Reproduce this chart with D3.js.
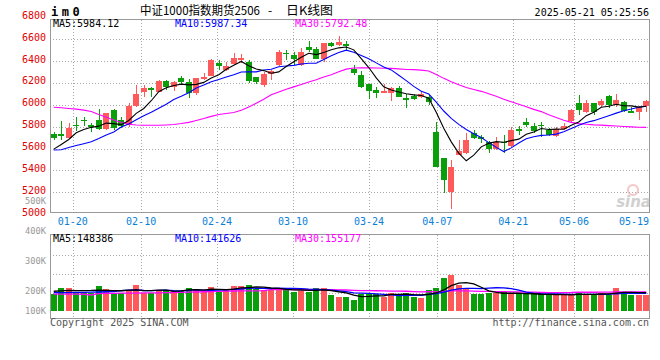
<!DOCTYPE html>
<html><head><meta charset="utf-8">
<script src="https://cdn.jsdelivr.net/npm/d3@7"></script>
<style>
html,body{margin:0;padding:0;background:#fff;}
svg{display:block;}
</style></head><body>
<svg id="c" width="660" height="360"></svg>
<script>
const dates = ["01-15","01-16","01-17","01-20","01-21","01-22","01-23","01-24","01-27","02-05",
"02-06","02-07","02-10","02-11","02-12","02-13","02-14","02-17","02-18","02-19",
"02-20","02-21","02-24","02-25","02-26","02-27","02-28","03-03","03-04","03-05",
"03-06","03-07","03-10","03-11","03-12","03-13","03-14","03-17","03-18","03-19",
"03-20","03-21","03-24","03-25","03-26","03-27","03-28","03-31","04-01","04-02",
"04-03","04-07","04-08","04-09","04-10","04-11","04-14","04-15","04-16","04-17",
"04-18","04-21","04-22","04-23","04-24","04-25","04-28","04-29","04-30","05-06",
"05-07","05-08","05-09","05-12","05-13","05-14","05-15","05-16","05-19","05-20"];
const open = [5736,5731,5698,5820,5866,5814,5862,5775,5953,5866,
5814,5990,6120,6154,6121,6222,6167,6243,6209,6106,
6234,6264,6386,6319,6374,6414,6395,6258,6182,6282,
6364,6478,6457,6365,6533,6509,6417,6569,6551,6554,
6325,6276,6191,6136,6112,6112,6152,6060,6081,6069,
6075,5755,5511,5206,5541,5557,5740,5706,5663,5594,
5661,5627,5776,5840,5807,5820,5770,5716,5779,5856,
6014,5938,6014,6000,6081,5999,6029,5947,5938,5990];
const high = [5755,5853,5832,5892,5889,5832,5961,5930,5962,5892,
6020,6182,6182,6163,6228,6228,6215,6264,6234,6250,
6295,6420,6411,6395,6472,6466,6411,6258,6304,6319,
6502,6502,6487,6518,6585,6533,6570,6578,6630,6588,
6365,6313,6191,6160,6191,6166,6172,6100,6100,6121,
6090,5846,5511,5496,5679,5740,5770,5725,5670,5709,
5725,5800,5807,5877,5832,5840,5786,5800,5832,5960,
6090,6045,6014,6051,6090,6100,6039,5984,5990,6045];
const low = [5679,5679,5695,5761,5804,5755,5773,5773,5770,5786,
5795,5978,6075,6075,6121,6136,6130,6182,6066,6090,
6228,6264,6319,6313,6364,6380,6197,6191,6166,6228,
6359,6411,6365,6356,6480,6417,6395,6533,6542,6496,
6273,6151,6051,6060,6112,6036,6069,5975,6045,6060,
5999,5435,5197,5045,5541,5551,5688,5649,5557,5587,
5563,5618,5725,5795,5740,5709,5716,5709,5770,5846,
5907,5926,5907,5978,5969,5984,5938,5923,5862,5938];
const close = [5699,5720,5786,5810,5855,5801,5775,5926,5786,5808,
5990,6100,6151,6139,6222,6167,6209,6212,6106,6243,
6258,6411,6359,6356,6432,6426,6221,6206,6282,6313,
6487,6466,6420,6487,6502,6423,6563,6542,6578,6538,
6295,6166,6130,6105,6130,6152,6075,6045,6057,6097,
6029,5435,5313,5435,5581,5679,5694,5691,5596,5658,
5649,5770,5761,5816,5764,5807,5725,5779,5807,5953,
5953,6014,5938,6036,5996,6045,5947,5929,5978,6036];
const volume = [157000,216000,216000,179000,179000,164000,231000,204000,169000,169000,
194000,241000,169000,169000,194000,194000,185000,185000,216000,204000,
179000,222000,179000,204000,231000,231000,241000,204000,194000,194000,
216000,194000,179000,188000,179000,216000,216000,148000,132000,132000,
102000,155000,155000,155000,132000,169000,155000,169000,132000,123000,
194000,216000,308000,333000,241000,216000,155000,155000,169000,164000,
179000,155000,155000,155000,155000,155000,148000,148000,148000,148000,
179000,148000,148000,164000,152000,216000,179000,152000,148000,152000];
// moving-average values before enough bars exist
const ma5Head = [5595,5638,5683,5745];
const ma10Head = [5587,5590,5610,5628,5645,5663,5692,5724,5752];
const ma30Head = [5978,5973,5967,5961,5952,5939,5912,5887,5862,5839,5822,5816,5813,5813,5813,5816,5820,5829,5840,5857,5875,5895,5912,5921,5930,5950,5980,6015,6052];
const volMa5Head = [183000,186000,190000,188000];
const volMa10Head = [170000,171000,171000,172000,173000,175000,176000,178000,180000];
const volMa30Head = [157000,157000,156000,156000,155000,148000,160000,163000,164000,165000,165000,166000,167000,168000,168000,170000,171000,172000,174000,176000,178000,180000,182000,184000,185000,186000,187000,187000,188000];
const priceTicks = [6800,6600,6400,6200,6000,5800,5600,5400,5200,5000];
const volTicks = [500000,400000,300000,200000,100000];
const dateTicks = ["01-20","02-10","02-24","03-10","03-24","04-07","04-21","05-06","05-19"];
const maLabels = [["MA5:5984.12","#000"],["MA10:5987.34","#0000ff"],["MA30:5792.48","#ff00ff"]];
const volMaLabels = [["MA5:148386","#000"],["MA10:141626","#0000ff"],["MA30:155177","#ff00ff"]];
const titleParts = ["中证1000指数期货2506","-","日K线图"];

const UP="#ff5a5a", DOWN="#0a9e0a";
const MONO="'DejaVu Sans Mono', monospace";
const svg=d3.select("#c");
const L=50,R=650,T=19.5,B=212.5,VT=234.5,VB=318.5,VBASE=311;
const n=dates.length;
const xb=d3.scaleBand().domain(d3.range(n)).range([L,R]).paddingInner(0.2).paddingOuter(0.1);
const xg=d3.scalePoint().domain(d3.range(n)).range([L,R]);
const y=d3.scaleLinear().domain([5000,6800]).range([214.2,17.4]);
const yv=d3.scaleLinear().domain([0,710000]).range([VBASE,234.3]);
const yvl=d3.scaleLinear().domain([200000,500000]).range([291,200.4]);
const cx=i=>Math.round(xb(i)+xb.bandwidth()/2)+0.5;

function movingAvg(arr,k,head){return arr.map((_,i)=>i<k-1?head[i]:d3.mean(arr.slice(i-k+1,i+1)));}

// gridlines
const grid=svg.append("g").attr("stroke","#aaa").attr("stroke-dasharray","1,2").attr("shape-rendering","crispEdges");
priceTicks.filter(p=>p<6800&&p>5000).forEach(p=>{
  const yy=Math.round(y(p))+0.5;
  grid.append("line").attr("x1",L).attr("x2",R).attr("y1",yy).attr("y2",yy);
});
d3.range(3).map(k=>255.5+19*k).forEach(yy=>{
  grid.append("line").attr("x1",L).attr("x2",R).attr("y1",yy).attr("y2",yy);
});
dateTicks.forEach(t=>{
  const i=dates.indexOf(t);
  const xx=Math.round(xg(i))+0.5;
  if(xx<R-10){
    grid.append("line").attr("x1",xx).attr("x2",xx).attr("y1",T).attr("y2",B);
    grid.append("line").attr("x1",xx).attr("x2",xx).attr("y1",VT).attr("y2",VB);
  }
});

// frames
svg.append("rect").attr("x",L+0.5).attr("y",T).attr("width",R-L-1).attr("height",B-T)
  .attr("fill","none").attr("stroke","#999").attr("shape-rendering","crispEdges");
svg.append("rect").attr("x",L+0.5).attr("y",VT).attr("width",R-L-1).attr("height",VB-VT)
  .attr("fill","none").attr("stroke","#999").attr("shape-rendering","crispEdges");

// watermark
const wm=svg.append("g").attr("opacity",0.55);
wm.append("circle").attr("cx",633).attr("cy",190).attr("r",5).attr("fill","none").attr("stroke","#e99").attr("stroke-width",2);
wm.append("text").attr("x",651).attr("y",207).attr("text-anchor","end").attr("font-family","'DejaVu Sans',sans-serif")
  .attr("font-weight","bold").attr("font-style","italic").attr("font-size",15).attr("fill","#aaa").text("sina");

// candles
const idx=d3.range(n);
const isUp=i=>close[i]>open[i];
const cg=svg.append("g").attr("shape-rendering","crispEdges");
cg.selectAll("line.w").data(idx).join("line")
  .attr("x1",cx).attr("x2",cx).attr("y1",i=>y(high[i])).attr("y2",i=>y(low[i]))
  .attr("stroke",i=>isUp(i)?UP:DOWN);
cg.selectAll("rect.b").data(idx).join("rect")
  .attr("x",i=>Math.round(xb(i))).attr("width",Math.round(xb.bandwidth()))
  .attr("y",i=>Math.min(y(open[i]),y(close[i])))
  .attr("height",i=>Math.max(1.5,Math.abs(y(open[i])-y(close[i]))))
  .attr("fill",i=>isUp(i)?UP:DOWN);

// price MAs
const line=d3.line().x((d,i)=>xb(i)+xb.bandwidth()/2).y(d=>y(d));
[[movingAvg(close,30,ma30Head),"#ff00ff"],[movingAvg(close,10,ma10Head),"#0000ff"],[movingAvg(close,5,ma5Head),"#000"]].forEach(([d,c])=>{
  svg.append("path").attr("d",line(d)).attr("fill","none").attr("stroke",c).attr("stroke-width",1.1);
});

// volume bars
svg.append("g").attr("shape-rendering","crispEdges").selectAll("rect").data(idx).join("rect")
  .attr("x",i=>Math.round(xb(i))).attr("width",Math.round(xb.bandwidth()))
  .attr("y",i=>yv(volume[i])).attr("height",i=>VBASE-yv(volume[i]))
  .attr("fill",i=>isUp(i)?UP:DOWN);
const vline=d3.line().x((d,i)=>xb(i)+xb.bandwidth()/2).y(d=>yv(d));
[[movingAvg(volume,30,volMa30Head),"#ff00ff"],[movingAvg(volume,10,volMa10Head),"#0000ff"],[movingAvg(volume,5,volMa5Head),"#000"]].forEach(([d,c])=>{
  svg.append("path").attr("d",vline(d)).attr("fill","none").attr("stroke",c).attr("stroke-width",1.3);
});

// axis labels
const txt=(x,yy,s,opt={})=>svg.append("text").attr("x",x).attr("y",yy).text(s)
  .attr("font-family",opt.family||MONO).attr("font-size",opt.size||10)
  .attr("fill",opt.fill||"#000").attr("text-anchor",opt.anchor||"start")
  .attr("font-weight",opt.weight||"normal");
priceTicks.forEach(p=>txt(46,y(p)+1.4,String(p),{anchor:"end",fill:"#e00000"}));
volTicks.forEach(v=>txt(46,Math.min(yvl(v),310.5)+3.3,(v/1000)+"K",{anchor:"end",fill:"#999",size:8.7}));
dateTicks.forEach(t=>{
  const i=dates.indexOf(t); const xx=xg(i);
  if(xx+15>R) txt(R-1,225,t,{anchor:"end",fill:"#0a7fd8"});
  else txt(xx,225,t,{anchor:"middle",fill:"#0a7fd8"});
});
const labX=[53,175,295];
maLabels.forEach((m,k)=>txt(labX[k],27.3,m[0],{fill:m[1]}));
volMaLabels.forEach((m,k)=>txt(labX[k],241.7,m[0],{fill:m[1]}));

// header
txt(51,16,"im0",{weight:"bold",size:12}).attr("letter-spacing","3.5px");
const CJK="'Noto Sans CJK SC',sans-serif";
txt(140,14.5,titleParts[0],{family:CJK,size:12}).attr("textLength",120).attr("lengthAdjust","spacingAndGlyphs");
txt(268,14.5,titleParts[1],{family:CJK,size:12});
txt(286,14.5,titleParts[2],{family:CJK,size:12}).attr("textLength",47).attr("lengthAdjust","spacingAndGlyphs");
txt(649,15.7,"2025-05-21 05:25:56",{anchor:"end"});
txt(50,326,"Copyright 2025 SINA.COM",{fill:"#555"});
txt(649,326,"http://finance.sina.com.cn",{anchor:"end",fill:"#555"});
</script>
</body></html>
